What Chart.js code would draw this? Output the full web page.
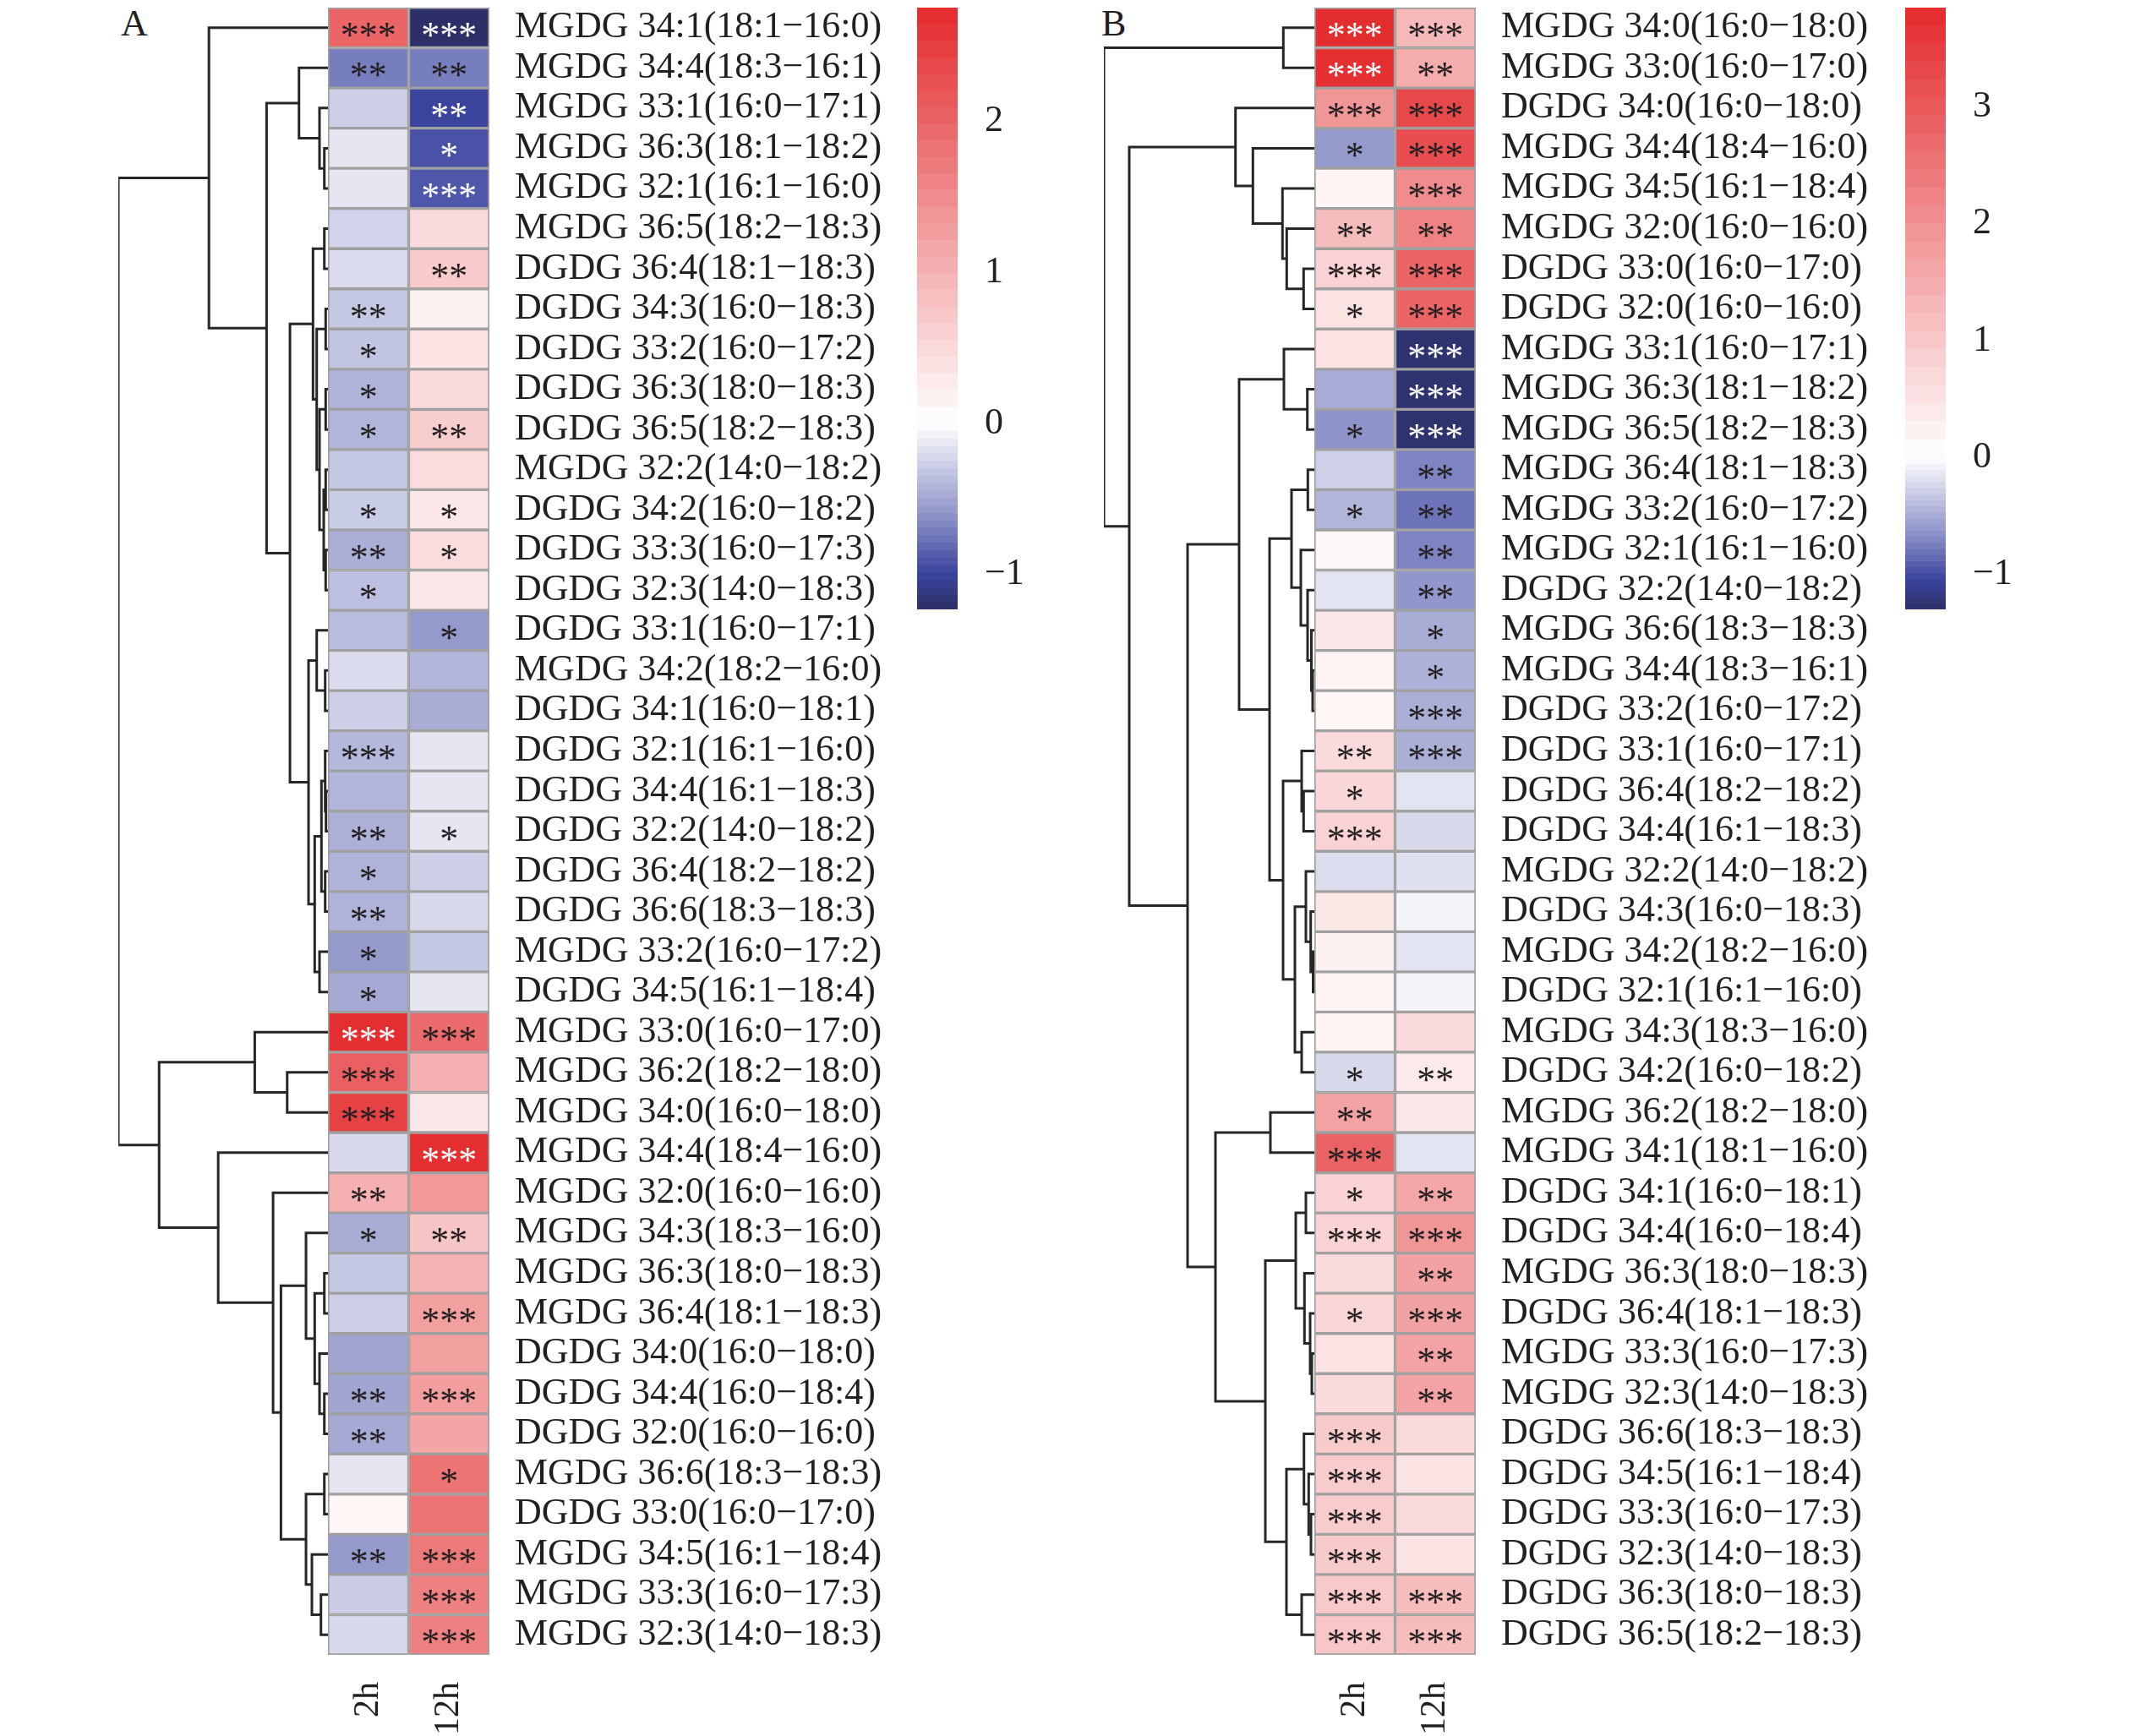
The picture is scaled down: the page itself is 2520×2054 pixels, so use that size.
<!DOCTYPE html>
<html>
<head>
<meta charset="utf-8">
<script src="https://cdn.jsdelivr.net/npm/chart.js@4.4.1/dist/chart.umd.min.js"></script>
<style>
  html, body { margin: 0; padding: 0; background: #fff; }
  #page { position: relative; width: 2520px; height: 2054px; background: #fff; overflow: hidden; }
  #page canvas { position: absolute; }
  .tag { position: absolute; font: 44px "Liberation Serif", serif; line-height: 44px; color: #231f20; }
</style>
</head>
<body>
<div id="page">
  <div class="tag" style="left:143px; top:6px">A</div>
  <div class="tag" style="left:1303px; top:6px">B</div>
  <canvas id="dendA" width="268" height="1949" style="left:120px; top:9px; width:268px; height:1949px"></canvas>
  <canvas id="heatA" width="690" height="2045" style="left:388px; top:9px; width:690px; height:2045px"></canvas>
  <canvas id="keyA" width="200" height="712" style="left:1085px; top:9px; width:200px; height:712px"></canvas>
  <canvas id="dendB" width="269" height="1949" style="left:1286px; top:9px; width:269px; height:1949px"></canvas>
  <canvas id="heatB" width="680" height="2045" style="left:1555px; top:9px; width:680px; height:2045px"></canvas>
  <canvas id="keyB" width="200" height="712" style="left:2254px; top:9px; width:200px; height:712px"></canvas>
</div>
<script>
// ---- data ----
const colLabels = ['2h', '12h'];

const rowsA = ['MGDG 34:1(18:1−16:0)', 'MGDG 34:4(18:3−16:1)', 'MGDG 33:1(16:0−17:1)', 'MGDG 36:3(18:1−18:2)',
  'MGDG 32:1(16:1−16:0)', 'MGDG 36:5(18:2−18:3)', 'DGDG 36:4(18:1−18:3)', 'DGDG 34:3(16:0−18:3)',
  'DGDG 33:2(16:0−17:2)', 'DGDG 36:3(18:0−18:3)', 'DGDG 36:5(18:2−18:3)', 'MGDG 32:2(14:0−18:2)',
  'DGDG 34:2(16:0−18:2)', 'DGDG 33:3(16:0−17:3)', 'DGDG 32:3(14:0−18:3)', 'DGDG 33:1(16:0−17:1)',
  'MGDG 34:2(18:2−16:0)', 'DGDG 34:1(16:0−18:1)', 'DGDG 32:1(16:1−16:0)', 'DGDG 34:4(16:1−18:3)',
  'DGDG 32:2(14:0−18:2)', 'DGDG 36:4(18:2−18:2)', 'DGDG 36:6(18:3−18:3)', 'MGDG 33:2(16:0−17:2)',
  'DGDG 34:5(16:1−18:4)', 'MGDG 33:0(16:0−17:0)', 'MGDG 36:2(18:2−18:0)', 'MGDG 34:0(16:0−18:0)',
  'MGDG 34:4(18:4−16:0)', 'MGDG 32:0(16:0−16:0)', 'MGDG 34:3(18:3−16:0)', 'MGDG 36:3(18:0−18:3)',
  'MGDG 36:4(18:1−18:3)', 'DGDG 34:0(16:0−18:0)', 'DGDG 34:4(16:0−18:4)', 'DGDG 32:0(16:0−16:0)',
  'MGDG 36:6(18:3−18:3)', 'DGDG 33:0(16:0−17:0)', 'MGDG 34:5(16:1−18:4)', 'MGDG 33:3(16:0−17:3)',
  'MGDG 32:3(14:0−18:3)'];
const valsA2h = [2.0, -0.71, -0.27, -0.14, -0.14, -0.25, -0.2, -0.31, -0.33, -0.43, -0.42, -0.31, -0.29, -0.45,
  -0.36, -0.38, -0.2, -0.27, -0.4, -0.42, -0.44, -0.43, -0.43, -0.57, -0.48, 2.7, 2.05, 2.45, -0.21, 1.02,
  -0.46, -0.31, -0.27, -0.51, -0.51, -0.48, -0.14, 0.13, -0.57, -0.28, -0.22];
const valsA12h = [-1.22, -0.71, -1.0, -0.92, -0.9, 0.48, 0.68, 0.17, 0.36, 0.48, 0.65, 0.45, 0.3, 0.45, 0.3,
  -0.57, -0.41, -0.46, -0.14, -0.14, -0.14, -0.27, -0.21, -0.31, -0.14, 1.92, 1.02, 0.3, 2.7, 1.32, 0.75,
  1.0, 1.24, 1.24, 1.27, 1.17, 1.8, 1.8, 1.72, 1.64, 1.64];
const sigA2h = ['***', '**', '', '', '', '', '', '**', '*', '*', '*', '', '*', '**', '*', '', '', '', '***', '',
  '**', '*', '**', '*', '*', '***', '***', '***', '', '**', '*', '', '', '', '**', '**', '', '', '**', '', ''];
const sigA12h = ['***', '**', '**', '*', '***', '', '**', '', '', '', '**', '', '*', '*', '', '*', '', '', '', '',
  '*', '', '', '', '', '***', '', '', '***', '', '**', '', '***', '', '***', '', '*', '', '***', '***', '***'];
const rangeA = [-1.23, 2.75];
// dendrogram: [height, left, right], leaves are row indices
const treeA = [248.3,
  [141, 0,
    [72.7,
      [34.3, 1, [10, 2, [4.3, 3, 4]]],
      [45,
        [17.7, [4.3, 5, 6],
          [13.3, [2.7, 7, 8], [10, [2.7, 9, 10], [5, [2.7, 11, 12], [2.7, 13, 14]]]]],
        [23,
          [13.3, 15, [3.3, 16, 17]],
          [15.7, [7.7, [3.3, 18, [2.3, 19, 20]], [3.3, 21, 22]], [10, 23, 24]]]]]],
  [200,
    [86.7, 25, [48.3, 26, 27]],
    [130, 28,
      [65, 29,
        [55.7,
          [26, 30, [15.7, [4.3, 31, 32], [10, 33, [4.3, 34, 35]]]],
          [26, [4.3, 36, 37], [19, 38, [8.3, 39, 40]]]]]]]];

const rowsB = ['MGDG 34:0(16:0−18:0)', 'MGDG 33:0(16:0−17:0)', 'DGDG 34:0(16:0−18:0)', 'MGDG 34:4(18:4−16:0)',
  'MGDG 34:5(16:1−18:4)', 'MGDG 32:0(16:0−16:0)', 'DGDG 33:0(16:0−17:0)', 'DGDG 32:0(16:0−16:0)',
  'MGDG 33:1(16:0−17:1)', 'MGDG 36:3(18:1−18:2)', 'MGDG 36:5(18:2−18:3)', 'MGDG 36:4(18:1−18:3)',
  'MGDG 33:2(16:0−17:2)', 'MGDG 32:1(16:1−16:0)', 'DGDG 32:2(14:0−18:2)', 'MGDG 36:6(18:3−18:3)',
  'MGDG 34:4(18:3−16:1)', 'DGDG 33:2(16:0−17:2)', 'DGDG 33:1(16:0−17:1)', 'DGDG 36:4(18:2−18:2)',
  'DGDG 34:4(16:1−18:3)', 'MGDG 32:2(14:0−18:2)', 'DGDG 34:3(16:0−18:3)', 'MGDG 34:2(18:2−16:0)',
  'DGDG 32:1(16:1−16:0)', 'MGDG 34:3(18:3−16:0)', 'DGDG 34:2(16:0−18:2)', 'MGDG 36:2(18:2−18:0)',
  'MGDG 34:1(18:1−16:0)', 'DGDG 34:1(16:0−18:1)', 'DGDG 34:4(16:0−18:4)', 'MGDG 36:3(18:0−18:3)',
  'DGDG 36:4(18:1−18:3)', 'MGDG 33:3(16:0−17:3)', 'MGDG 32:3(14:0−18:3)', 'DGDG 36:6(18:3−18:3)',
  'DGDG 34:5(16:1−18:4)', 'DGDG 33:3(16:0−17:3)', 'DGDG 32:3(14:0−18:3)', 'DGDG 36:3(18:0−18:3)',
  'DGDG 36:5(18:2−18:3)'];
const valsB2h = [3.8, 3.75, 1.9, -0.6, 0.2, 1.2, 0.81, 0.52, 0.5, -0.5, -0.64, -0.28, -0.44, 0.15, -0.16,
  0.42, 0.2, 0.18, 0.67, 0.7, 0.8, -0.2, 0.44, 0.23, 0.2, 0.2, -0.22, 1.66, 2.82, 0.8, 0.81, 0.67, 0.76,
  0.5, 0.67, 0.94, 0.92, 0.92, 0.94, 0.98, 1.03];
const valsB12h = [1.27, 1.5, 3.3, 3.2, 2.08, 2.26, 2.8, 2.8, -1.26, -1.26, -1.26, -0.72, -0.8, -0.72, -0.62,
  -0.49, -0.46, -0.48, -0.48, -0.16, -0.22, -0.18, -0.06, -0.16, -0.07, 0.66, 0.4, 0.42, -0.16, 1.6, 1.9,
  1.7, 1.68, 1.66, 1.66, 0.67, 0.48, 0.66, 0.48, 1.2, 1.2];
const sigB2h = ['***', '***', '***', '*', '', '**', '***', '*', '', '', '*', '', '*', '', '', '', '', '', '**', '*',
  '***', '', '', '', '', '', '*', '**', '***', '*', '***', '', '*', '', '', '***', '***', '***', '***', '***', '***'];
const sigB12h = ['***', '**', '***', '***', '***', '**', '***', '***', '***', '***', '***', '**', '**', '**', '**', '*',
  '*', '***', '***', '', '', '', '', '', '', '', '**', '', '', '**', '***', '**', '***', '**', '**', '', '', '', '',
  '***', '***'];
const rangeB = [-1.30, 3.85];
const treeB = [249,
  [36.7, 0, 1],
  [219,
    [93.3, 2, [72.7, 3, [37.7, 4, [32.7, 5, [12.7, 6, 7]]]]],
    [150,
      [89,
        [36, 8, [8.3, 9, 10]],
        [53,
          [27, [7.7, 11, 12], [16, 13, [8, 14, [3.5, 15, [2, 16, 17]]]]],
          [37,
            [15, 18, [12.7, 19, 20]],
            [23, [10, 21, [4.3, 22, [1.5, 23, 24]]], [15, 25, 26]]]]],
      [117,
        [52, 27, 28],
        [58,
          [22, [10, 29, 30], [11.7, 31, [5, 32, [3, 33, 34]]]],
          [33, [12.3, 35, [6.7, 36, [4, 37, 38]]], [15, 39, 40]]]]]]];

// ---- style ----
const SERIF = '"Liberation Serif", "Times New Roman", serif';
const INK = '#231f20';
const redStops = [[0, [255, 255, 255]], [1, [227, 42, 44]]];
const blueStops = [[0, [255, 255, 255]], [0.5, [140, 146, 200]], [0.8, [60, 69, 160]], [1, [44, 47, 102]]];

function ramp(stops, t) {
  t = Math.max(0, Math.min(1, t));
  for (let i = 1; i < stops.length; i++) {
    if (t <= stops[i][0]) {
      const [t0, c0] = stops[i - 1], [t1, c1] = stops[i];
      const f = (t - t0) / (t1 - t0);
      return c0.map((c, k) => Math.round(c + (c1[k] - c) * f));
    }
  }
  return stops[stops.length - 1][1];
}
function colorFor(v, range) {
  const c = v >= 0 ? ramp(redStops, v / range[1]) : ramp(blueStops, v / range[0]);
  return `rgb(${c[0]},${c[1]},${c[2]})`;
}
function inkFor(v, range) {
  const t = v >= 0 ? v / range[1] : v / range[0];
  return (v >= 0 ? t > 0.9 : t > 0.7) ? '#ffffff' : INK;
}

const starPlugin = {
  id: 'stars',
  afterDatasetsDraw(chart) {
    const ctx = chart.ctx;
    ctx.save();
    ctx.font = `44px ${SERIF}`;
    ctx.textAlign = 'center';
    ctx.textBaseline = 'alphabetic';
    chart.data.datasets.forEach((ds, di) => {
      chart.getDatasetMeta(di).data.forEach((bar, i) => {
        const m = ds.marks[i];
        if (!m) return;
        const p = bar.getProps(['x', 'base', 'y'], true);
        ctx.fillStyle = ds.inks[i];
        ctx.fillText(m, (p.x + p.base) / 2, p.y + 23);
      });
    });
    ctx.restore();
  }
};

function treeLinks(node, out) {
  if (typeof node === 'number') return { y: node, h: 0 };
  const [h, a, b] = node;
  const l = treeLinks(a, out), r = treeLinks(b, out);
  out.push([{ x: l.h, y: l.y }, { x: h, y: l.y }, { x: h, y: r.y }, { x: r.h, y: r.y }]);
  return { y: (l.y + r.y) / 2, h };
}

function drawTree(id, tree, n) {
  const links = [];
  treeLinks(tree, links);
  new Chart(document.getElementById(id), {
    type: 'scatter',
    data: {
      datasets: links.map(pts => ({
        data: pts, showLine: true, borderColor: '#262626', borderWidth: 3,
        pointRadius: 0, tension: 0, borderJoinStyle: 'miter'
      }))
    },
    options: {
      responsive: false, animation: false, devicePixelRatio: 1,
      layout: { padding: { left: 20 } },
      plugins: { legend: { display: false }, tooltip: { enabled: false } },
      scales: {
        x: { type: 'linear', reverse: true, min: 0, max: tree[0], display: false },
        y: { type: 'linear', reverse: true, min: -0.5, max: n - 0.5, display: false }
      }
    }
  });
}

function drawHeat(id, rows, cols, sigs, range, axisW) {
  new Chart(document.getElementById(id), {
    type: 'bar',
    data: {
      labels: rows,
      datasets: cols.map((vals, c) => ({
        data: vals.map(() => [c, c + 1]),
        backgroundColor: vals.map(v => colorFor(v, range)),
        borderColor: '#a0a0a0', borderWidth: 2, borderSkipped: false,
        barPercentage: 1, categoryPercentage: 1, grouped: false,
        marks: sigs[c], inks: vals.map(v => inkFor(v, range))
      }))
    },
    options: {
      indexAxis: 'y',
      responsive: false, animation: false, devicePixelRatio: 1,
      plugins: { legend: { display: false }, tooltip: { enabled: false } },
      scales: {
        y: {
          type: 'category', position: 'right',
          grid: { display: false, drawTicks: false }, border: { display: false },
          ticks: { autoSkip: false, padding: 30, color: INK, font: { family: SERIF, size: 44 } },
          afterFit: s => { s.width = axisW; s.paddingTop = 0; s.paddingBottom = 0; }
        },
        x: {
          type: 'linear', position: 'bottom', min: 0, max: cols.length,
          grid: { display: false, drawTicks: false }, border: { display: false },
          afterBuildTicks: s => { s.ticks = colLabels.map((_, i) => ({ value: i + 0.5 })); },
          afterFit: s => { s.height = 96; s.paddingLeft = 0; s.paddingRight = 0; },
          ticks: {
            autoSkip: false, minRotation: 90, maxRotation: 90, padding: 32, color: INK,
            font: { family: SERIF, size: 42 }, callback: (v, i) => colLabels[i]
          }
        }
      }
    },
    plugins: [starPlugin]
  });
}

function drawKey(id, range) {
  const nRed = 25, nBlue = 25, sets = [];
  for (let k = 0; k < nRed; k++) {
    const step = range[1] / nRed;
    sets.push({ data: [step], backgroundColor: colorFor((k + 0.5) * step, range) });
  }
  for (let k = 0; k < nBlue; k++) {
    const step = range[0] / nBlue;
    sets.push({ data: [step], backgroundColor: colorFor((k + 0.5) * step, range) });
  }
  sets.forEach(s => { s.barPercentage = 1; s.categoryPercentage = 1; s.borderWidth = 0; });
  new Chart(document.getElementById(id), {
    type: 'bar',
    data: { labels: [''], datasets: sets },
    options: {
      responsive: false, animation: false, devicePixelRatio: 1,
      plugins: { legend: { display: false }, tooltip: { enabled: false } },
      scales: {
        x: { stacked: true, display: false },
        y: {
          stacked: true, position: 'right', min: range[0], max: range[1],
          grid: { display: false, drawTicks: false }, border: { display: false },
          ticks: {
            stepSize: 1, includeBounds: false, padding: 32, color: INK,
            font: { family: SERIF, size: 44 },
            callback: v => v < 0 ? '\u2212' + Math.abs(v) : String(v)
          },
          afterFit: s => { s.width = 152; s.paddingTop = 0; s.paddingBottom = 0; }
        }
      }
    }
  });
}

drawTree('dendA', treeA, rowsA.length);
drawHeat('heatA', rowsA, [valsA2h, valsA12h], [sigA2h, sigA12h], rangeA, 499);
drawKey('keyA', rangeA);
drawTree('dendB', treeB, rowsB.length);
drawHeat('heatB', rowsB, [valsB2h, valsB12h], [sigB2h, sigB12h], rangeB, 489);
drawKey('keyB', rangeB);
</script>
</body>
</html>
